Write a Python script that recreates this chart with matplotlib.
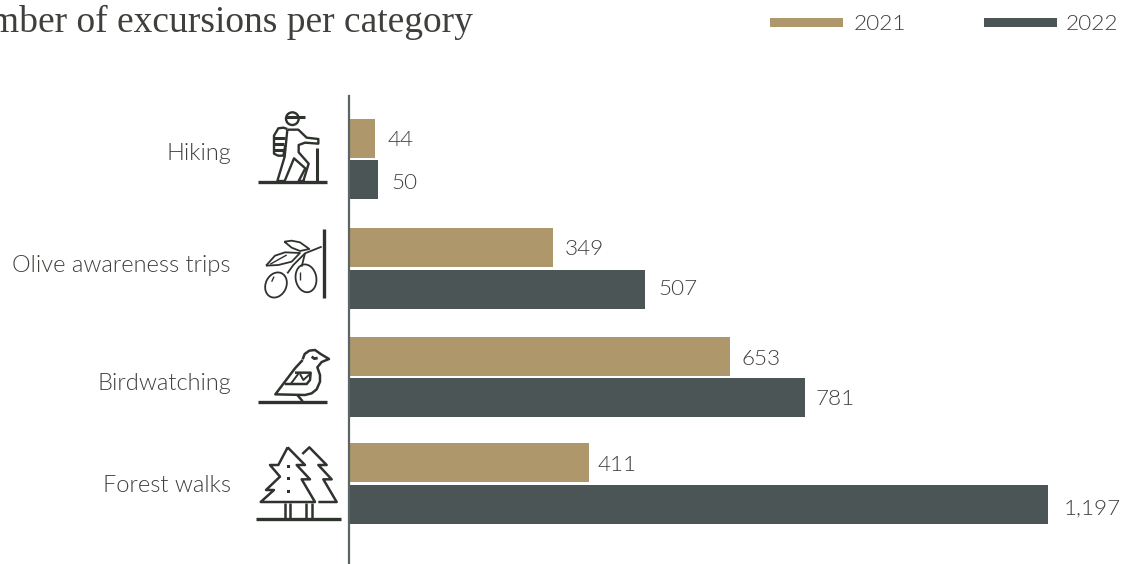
import matplotlib
matplotlib.use("Agg")
import matplotlib.pyplot as plt
from matplotlib.patches import Ellipse, Rectangle

categories = ["Hiking", "Olive awareness trips", "Birdwatching", "Forest walks"]
series_names = ["2021", "2022"]
values_2021 = [44, 349, 653, 411]
values_2022 = [50, 507, 781, 1197]
title = "Number of excursions per category"

C21 = "#ad976b"
C22 = "#4c5556"
TXT = "#3f3f3c"
ICON = "#2f332e"
FONT = ["Lato", "DejaVu Sans"]
WEIGHT = 300
SIZE = 17
NUM_SIZE = 16.2
W, H = 1126, 564

fig = plt.figure(figsize=(W / 100, H / 100), dpi=100, facecolor="white")

# Main chart axes: y is expressed in figure pixels, x in excursions
x0, x1 = 349, 1126
ax = fig.add_axes([x0 / W, 0, (x1 - x0) / W, (H - 96) / H])
ax.set_xlim(0, (x1 - x0) / 0.584)
ax.set_ylim(564, 96)
ax.patch.set_alpha(0)
for s in ["top", "right", "bottom"]:
    ax.spines[s].set_visible(False)
ax.spines["left"].set_color("#5b6568")
ax.spines["left"].set_linewidth(1.6)
ax.set_xticks([])
ax.set_yticks([])

y21 = [138.5, 247.5, 356.5, 462.5]
y22 = [179.5, 289.5, 397.5, 504.5]
lab_y21 = [140, 249, 359, 465]
lab_y22 = [183, 289, 399, 508]
off21 = [13, 12, 11, 8]
off22 = [13, 13, 10, 16]
ax.barh(y21, values_2021, height=39, color=C21, zorder=1)
ax.barh(y22, values_2022, height=39, color=C22, zorder=1)
ax.spines["left"].set_zorder(3)

for vals, ys, offs in ((values_2021, lab_y21, off21), (values_2022, lab_y22, off22)):
    for v, y, o in zip(vals, ys, offs):
        ax.annotate(f"{v:,}", (v, y), xytext=(o * 0.72, 0), textcoords="offset points",
                    va="center", ha="left", fontsize=NUM_SIZE, color=TXT,
                    family=FONT, fontweight=WEIGHT)

# Overlay in pixel space for title, legend, category labels and icons
ov = fig.add_axes([0, 0, 1, 1], zorder=5)
ov.set_xlim(0, W)
ov.set_ylim(H, 0)
ov.axis("off")

ov.text(473, 22, title, ha="right", va="center", fontsize=27, color=TXT,
        family=["Liberation Serif"])

for name, c, xb, xt in zip(series_names, (C21, C22), (770, 984), (854, 1066)):
    ov.add_patch(Rectangle((xb, 18), 73, 9, color=c, lw=0))
    ov.text(xt, 24, name, ha="left", va="center", fontsize=NUM_SIZE, color=TXT,
            family=FONT, fontweight=WEIGHT)

for cat, y in zip(categories, [154, 266, 384, 486]):
    ov.text(231, y, cat, ha="right", va="center", fontsize=SIZE, color=TXT,
            family=FONT, fontweight=WEIGHT)


def path(ox, oy, pts, lw=1.7, closed=False):
    xs = [ox + p[0] / 3 for p in pts]
    ys = [oy + p[1] / 3 for p in pts]
    if closed:
        xs.append(xs[0])
        ys.append(ys[0])
    ov.plot(xs, ys, color=ICON, lw=lw, solid_capstyle="butt", solid_joinstyle="round")


def ell(ox, oy, cx, cy, w, h, ang=0, lw=1.7):
    ov.add_patch(Ellipse((ox + cx / 3, oy + cy / 3), w / 3, h / 3, angle=ang,
                         fill=False, ec=ICON, lw=lw))


# Hiker
o = (250, 95)
path(*o, [(24, 262), (231, 262)], 2.4)
path(*o, [(200, 160), (200, 262)], 2.2)
ell(*o, 127, 71, 38, 38)
path(*o, [(108, 66), (165, 66)], 2.2)
path(*o, [(112, 102), (100, 98), (85, 100), (72, 122), (72, 176), (84, 182), (100, 182), (106, 150)])
path(*o, [(72, 128), (105, 128)], 2.2)
path(*o, [(72, 146), (103, 146)], 2.2)
path(*o, [(72, 164), (101, 164)], 2.2)
path(*o, [(112, 104), (145, 104), (170, 128), (205, 132), (205, 146), (165, 143), (146, 150),
          (146, 172), (176, 206), (160, 258)])
path(*o, [(112, 104), (104, 185), (82, 258), (104, 258), (132, 190), (166, 220), (146, 258), (165, 258)])

# Olive branch
path(*o, [(223, 403), (223, 608)], 2.4)
path(*o, [(215, 455), (165, 475), (130, 510), (112, 535)], 1.3)
path(*o, [(165, 475), (155, 515)], 1.3)
path(*o, [(103, 440), (125, 437), (150, 442), (178, 462), (150, 468), (125, 458)], 1.3, True)
path(*o, [(48, 512), (75, 482), (105, 472), (150, 474), (125, 500), (85, 510)], 1.3, True)
path(*o, [(60, 508), (110, 480)], 1.0)
ell(*o, 78, 570, 62, 78, 25, 1.3)
ell(*o, 168, 550, 62, 84, -10, 1.3)
path(*o, [(65, 560), (72, 545)], 1.0)
path(*o, [(150, 555), (150, 530)], 1.0)

# Bird
o = (250, 330)
path(*o, [(24, 216), (231, 216)], 2.4)
path(*o, [(142, 195), (158, 214)], 1.8)
path(*o, [(158, 88), (164, 72), (178, 62), (195, 60), (212, 72), (237, 87), (215, 96), (202, 112),
          (210, 135), (210, 155), (200, 178), (185, 190), (165, 195), (76, 193), (135, 115), (158, 90)], 1.8)
path(*o, [(104, 162), (170, 162), (180, 150), (182, 128), (135, 128)], 1.8)
path(*o, [(122, 162), (146, 130)], 1.4)
path(*o, [(150, 132), (160, 150), (180, 132)], 1.4)
path(*o, [(185, 80), (193, 86), (203, 84)], 2.0)

# Trees
path(*o, [(18, 568), (272, 568)], 2.4)
path(*o, [(113, 352), (165, 405), (140, 405), (180, 448), (155, 448), (195, 516), (32, 516),
          (72, 480), (48, 480), (90, 440), (60, 405), (85, 405)], 1.8, True)
path(*o, [(157, 372), (178, 352), (230, 405), (205, 405), (245, 448), (220, 448), (260, 516), (205, 516)], 1.8)
for xv in (105, 121, 169, 185):
    path(*o, [(xv, 518), (xv, 566)], 1.8)
for yd in (405, 441, 480):
    ov.add_patch(Rectangle((o[0] + 110 / 3, o[1] + yd / 3), 3, 3, color=ICON, lw=0))

fig.savefig("out.png", dpi=100)
